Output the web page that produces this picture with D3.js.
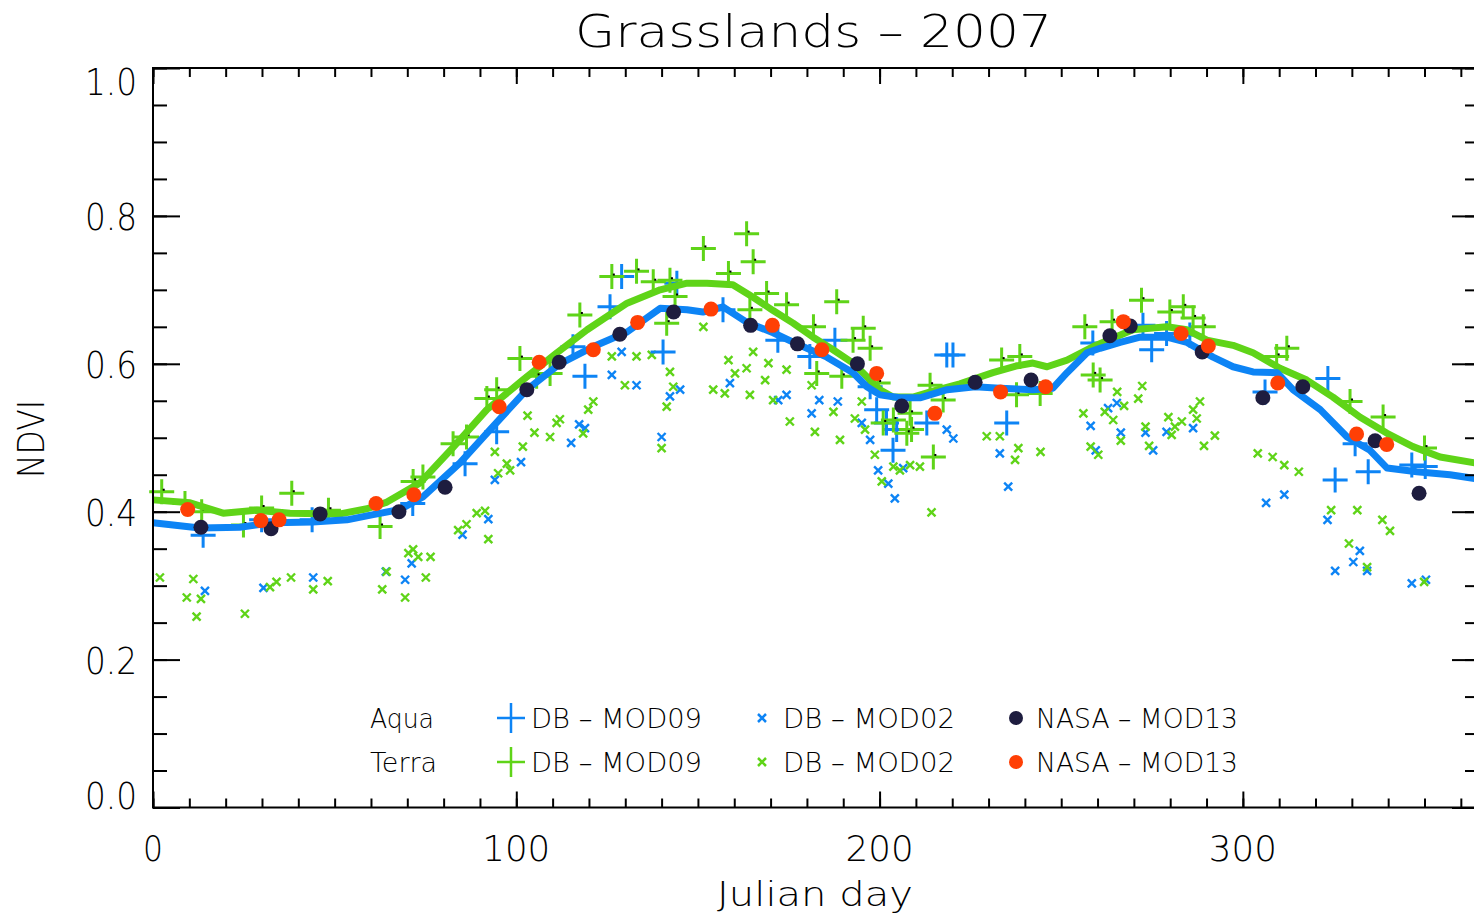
<!DOCTYPE html>
<html><head><meta charset="utf-8">
<script src="https://cdn.jsdelivr.net/npm/d3@7"></script>
<style>
html,body{margin:0;padding:0;background:#fff;}
svg text{font-family:"DejaVu Sans","Liberation Sans",sans-serif;font-weight:200;fill:#000;}
</style></head>
<body>
<svg id="c" width="1474" height="917"></svg>
<script>
// ---------- DATA (Julian day, NDVI) ----------
const title = "Grasslands – 2007";
const xLabel = "Julian day";
const yLabel = "NDVI";
const xTickLabels = [0, 100, 200, 300];
const yTickLabels = [0.0, 0.2, 0.4, 0.6, 0.8, 1.0];
const legendRows = ["Aqua", "Terra"];
const legendNames = ["DB – MOD09", "DB – MOD02", "NASA – MOD13"];

const aquaSmooth = [[0,0.385],[12.9,0.378],[23.9,0.379],[33,0.385],[44,0.386],[53.4,0.389],[60.6,0.396],[68,0.403],[74.3,0.42],[84.5,0.466],[92.8,0.511],[102.9,0.565],[112,0.6],[121.1,0.623],[130.5,0.643],[139.6,0.675],[147,0.673],[151.4,0.67],[156.9,0.677],[163.5,0.656],[170.7,0.642],[178.1,0.625],[185.5,0.609],[192.7,0.588],[196.5,0.569],[200.1,0.558],[205.6,0.554],[211.1,0.554],[218.6,0.565],[226.3,0.569],[233.1,0.567],[242.2,0.565],[247.7,0.567],[251.6,0.588],[257.1,0.615],[260.7,0.621],[266.2,0.629],[271.7,0.636],[279.1,0.636],[284.6,0.629],[291.8,0.609],[297.3,0.596],[302.8,0.589],[309.4,0.588],[313.8,0.565],[321.3,0.538],[328.7,0.501],[335,0.483],[339.7,0.459],[347.9,0.454],[357,0.45],[365,0.444]];
const terraSmooth = [[0,0.416],[10.2,0.412],[19.3,0.398],[28.6,0.402],[37.7,0.398],[51.5,0.397],[58.9,0.404],[64.4,0.413],[73.5,0.439],[82.6,0.487],[91.9,0.538],[101.8,0.578],[111.2,0.615],[119.5,0.646],[130.5,0.682],[139.6,0.7],[147,0.709],[152.5,0.709],[159.6,0.707],[165.2,0.69],[170.7,0.672],[176.2,0.655],[181.7,0.636],[187.2,0.619],[192.7,0.601],[197.4,0.578],[200.1,0.565],[203.7,0.555],[209.2,0.555],[214.7,0.563],[222.1,0.573],[231.2,0.588],[237.5,0.597],[242.2,0.601],[246.1,0.596],[251.6,0.605],[258.7,0.623],[269.7,0.646],[279.1,0.65],[284.6,0.646],[290.1,0.632],[297.3,0.625],[302.8,0.615],[310.2,0.594],[317.6,0.578],[324.8,0.555],[332.2,0.528],[339.7,0.506],[346.8,0.488],[354.3,0.474],[365,0.465]];

const aquaMod13 = [[13.2,0.379],[32.5,0.377],[46,0.397],[67.7,0.4],[80.4,0.433],[102.9,0.565],[111.8,0.602],[128.5,0.64],[143.3,0.67],[164.5,0.652],[177.4,0.627],[193.9,0.6],[206.1,0.543],[226.3,0.575],[241.7,0.578],[263.4,0.638],[269,0.651],[288.8,0.616],[305.5,0.554],[316.5,0.569],[336.4,0.496],[348.5,0.425]];
const terraMod13 = [[9.55,0.403],[29.7,0.388],[34.7,0.389],[61.4,0.411],[71.8,0.423],[95.3,0.542],[106.3,0.602],[121.2,0.619],[133.4,0.656],[153.6,0.674],[170.5,0.652],[184.1,0.619],[199.2,0.587],[215.2,0.533],[233.3,0.562],[245.7,0.569],[267.1,0.657],[283,0.641],[290.5,0.624],[309.6,0.574],[331.3,0.505],[339.6,0.491]];

const aquaMod09 = [[13.8,0.368],[29.9,0.389],[43.8,0.389],[71.5,0.411],[85.9,0.465],[94.6,0.508],[118.9,0.583],[115.6,0.623],[125.8,0.677],[129,0.718],[140.4,0.616],[144.2,0.709],[156.9,0.673],[172,0.632],[180.8,0.61],[187.7,0.632],[197.4,0.569],[199.2,0.538],[201.9,0.52],[204.7,0.511],[203.7,0.483],[213,0.52],[218.5,0.612],[220.2,0.612],[235,0.52],[258.7,0.628],[272.5,0.652],[274.9,0.619],[279,0.641],[285.4,0.639],[306.1,0.562],[323.4,0.58],[325.4,0.443],[330.9,0.492],[334.5,0.454],[346.5,0.463],[350.2,0.461]];
const terraMod09 = [[2.4,0.427],[8.8,0.411],[13.4,0.4],[24.9,0.382],[29.9,0.405],[38.2,0.425],[48.3,0.402],[62.5,0.38],[71.6,0.441],[74.3,0.447],[82.6,0.492],[86.3,0.501],[91.9,0.553],[94.6,0.565],[101,0.607],[105.6,0.583],[109.3,0.587],[117.5,0.666],[126.3,0.718],[133.1,0.725],[137.7,0.711],[142.3,0.713],[143.7,0.691],[141.4,0.655],[151.5,0.756],[158.4,0.722],[163.4,0.776],[165.2,0.738],[168.9,0.695],[174.4,0.68],[164.3,0.673],[181.8,0.65],[182.7,0.587],[188.2,0.684],[192.7,0.632],[195.5,0.648],[197.4,0.621],[189.6,0.583],[199.6,0.574],[208.4,0.533],[208.8,0.511],[213.9,0.571],[217.5,0.551],[214.8,0.474],[201,0.52],[203.8,0.524],[207.5,0.506],[233.6,0.605],[238.6,0.61],[237.7,0.558],[244.2,0.56],[256.5,0.65],[258.8,0.585],[260.7,0.578],[264,0.657],[272.1,0.686],[279.9,0.67],[283.6,0.677],[286.3,0.662],[289.1,0.65],[312.1,0.621],[309.3,0.61],[329.5,0.549],[338.6,0.528],[350,0.486]];

const aquaMod02 = [[14.3,0.293],[30.4,0.297],[44.1,0.311],[64.1,0.319],[69.4,0.308],[71.2,0.33],[85.2,0.369],[92.3,0.39],[94.1,0.443],[101.3,0.467],[115.1,0.493],[117.3,0.518],[118.9,0.513],[129,0.616],[126.3,0.585],[133.1,0.571],[142.3,0.556],[145.1,0.565],[140,0.501],[158.8,0.574],[172.1,0.551],[174.4,0.558],[183.4,0.551],[181.3,0.533],[188.5,0.549],[195.1,0.52],[197.4,0.497],[199.6,0.456],[202.4,0.438],[206.5,0.459],[204.2,0.418],[218.5,0.511],[220.3,0.499],[233.1,0.479],[235.4,0.434],[258.1,0.516],[259.5,0.483],[262.9,0.54],[265.3,0.547],[266.4,0.507],[273.2,0.507],[275.3,0.483],[279,0.508],[286.3,0.513],[306.4,0.412],[311.4,0.423],[323.3,0.389],[332.2,0.347],[330.4,0.332],[325.4,0.32],[334.2,0.32],[346.5,0.303],[350.4,0.308]];
const terraMod02 = [[1.9,0.311],[11.1,0.309],[9.3,0.284],[13.2,0.282],[12,0.258],[25.3,0.262],[32.2,0.298],[34,0.305],[38,0.311],[44.1,0.295],[48.1,0.306],[63.1,0.295],[64.3,0.319],[69.4,0.284],[75.1,0.311],[70.3,0.344],[71.6,0.349],[73,0.339],[76.4,0.339],[84,0.375],[86.3,0.383],[89.1,0.398],[91.4,0.401],[92.3,0.363],[94.1,0.481],[95,0.452],[97.4,0.465],[98.3,0.456],[101.8,0.488],[103.1,0.53],[105,0.507],[109.3,0.501],[111.1,0.52],[112,0.525],[118.4,0.506],[119.8,0.538],[121.2,0.549],[126.3,0.61],[129.9,0.571],[133.1,0.61],[137.3,0.612],[140,0.486],[142.3,0.589],[141.4,0.542],[143.2,0.569],[151.5,0.65],[154.2,0.565],[157.4,0.56],[158.4,0.605],[160.2,0.587],[163.4,0.594],[164.3,0.558],[165.2,0.616],[168.5,0.578],[169.4,0.601],[170.7,0.551],[174.4,0.592],[175.3,0.522],[181.3,0.571],[182.2,0.508],[187.3,0.535],[189.1,0.497],[193.2,0.526],[195.1,0.549],[196,0.511],[198.7,0.477],[200.6,0.441],[203.8,0.461],[205.6,0.456],[208.4,0.463],[211.1,0.461],[214.3,0.399],[229.5,0.502],[233.1,0.502],[238.2,0.486],[237.3,0.47],[244.3,0.481],[256.1,0.533],[258.1,0.488],[260.2,0.477],[262,0.535],[264.3,0.524],[265.4,0.562],[267.3,0.543],[266.4,0.496],[271.2,0.553],[272.3,0.57],[273.2,0.515],[274.2,0.489],[279.5,0.528],[281.3,0.515],[283.2,0.522],[280.4,0.504],[286.3,0.538],[287.3,0.526],[288.2,0.549],[289.3,0.489],[292.3,0.503],[304.1,0.479],[308.2,0.474],[311.4,0.463],[315.4,0.454],[324.3,0.402],[331.5,0.402],[338.4,0.389],[340.5,0.374],[329.2,0.357],[334.2,0.325],[349.9,0.305]];

// ---------- STYLE ----------
const BLUE = "#0d84f5", GREEN = "#5fd418", NAVY = "#1e1d3f", RED = "#ff3f05";

const svg = d3.select("#c");
const L = 153, R = 1479, T = 68, B = 807.5;
const x = d3.scaleLinear().domain([0, 365]).range([L, R]);
const y = d3.scaleLinear().domain([0, 1]).range([B, T]);

const plot = svg.append("g");

function crossX(g, data, color, s, w) {
  g.selectAll(null).data(data).enter().append("path")
    .attr("d", d => { const cx = x(d[0]), cy = y(d[1]);
      return `M${cx-s},${cy-s}L${cx+s},${cy+s}M${cx-s},${cy+s}L${cx+s},${cy-s}`; })
    .attr("stroke", color).attr("stroke-width", w).attr("fill", "none");
}
function plus(g, data, color, s, w, dot) {
  g.selectAll(null).data(data).enter().append("path")
    .attr("d", d => { const cx = x(d[0]), cy = y(d[1]);
      return `M${cx-s},${cy}L${cx+s},${cy}M${cx},${cy-s}L${cx},${cy+s}`; })
    .attr("stroke", color).attr("stroke-width", w).attr("fill", "none");
  if (dot) g.selectAll(null).data(data).enter().append("rect")
    .attr("x", d => x(d[0]) + 1).attr("y", d => y(d[1]) - 3).attr("width", 2).attr("height", 2).attr("fill", "#000");
}

crossX(plot.append("g"), aquaMod02, BLUE, 4, 2.4);
crossX(plot.append("g"), terraMod02, GREEN, 4, 2.4);
plus(plot.append("g"), aquaMod09, BLUE, 12.5, 3, false);
plus(plot.append("g"), terraMod09, GREEN, 12.5, 3, true);

const line = d3.line().x(d => x(d[0])).y(d => y(d[1]));
plot.append("path").datum(terraSmooth).attr("d", line).attr("fill", "none")
  .attr("stroke", GREEN).attr("stroke-width", 7).attr("stroke-linejoin", "round");
plot.append("path").datum(aquaSmooth).attr("d", line).attr("fill", "none")
  .attr("stroke", BLUE).attr("stroke-width", 7).attr("stroke-linejoin", "round");

plot.append("g").selectAll("circle").data(aquaMod13).enter().append("circle")
  .attr("cx", d => x(d[0])).attr("cy", d => y(d[1])).attr("r", 7.5).attr("fill", NAVY);
plot.append("g").selectAll("circle").data(terraMod13).enter().append("circle")
  .attr("cx", d => x(d[0])).attr("cy", d => y(d[1])).attr("r", 7.5).attr("fill", RED);

// ---------- AXES ----------
const ax = svg.append("g").attr("stroke", "#000");
function tickAxis(gen, tr, vals, size) {
  const g = ax.append("g").attr("transform", tr)
    .call(gen.tickValues(vals).tickSize(size).tickFormat(""));
  g.select(".domain").remove();
  g.selectAll(".tick line").attr("stroke", "#000").attr("stroke-width", 2);
}
const yMinor = d3.range(0, 1.0001, 0.05), xMinor = d3.range(0, 361, 10);
tickAxis(d3.axisLeft(y), `translate(${L},0)`, yMinor, -14);
tickAxis(d3.axisLeft(y), `translate(${L},0)`, yTickLabels, -27);
tickAxis(d3.axisRight(y), `translate(${R},0)`, yMinor, -14);
tickAxis(d3.axisRight(y), `translate(${R},0)`, yTickLabels, -27);
tickAxis(d3.axisBottom(x), `translate(0,${B})`, xMinor, -9);
tickAxis(d3.axisBottom(x), `translate(0,${B})`, xTickLabels, -16);
tickAxis(d3.axisTop(x), `translate(0,${T})`, xMinor, -9);
tickAxis(d3.axisTop(x), `translate(0,${T})`, xTickLabels, -16);
svg.append("rect").attr("x", L).attr("y", T).attr("width", R - L).attr("height", B - T)
  .attr("fill", "none").attr("stroke", "#000").attr("stroke-width", 2);

// tick labels
const lab = svg.append("g");
lab.selectAll(null).data(yTickLabels).enter().append("text")
  .attr("x", 85).attr("y", d => Math.min(Math.max(y(d), T + 13), B - 13) + 14)
  .attr("font-size", 37).attr("textLength", 52).attr("lengthAdjust", "spacingAndGlyphs")
  .text(d => d.toFixed(1));
lab.selectAll(null).data(xTickLabels).enter().append("text")
  .attr("x", d => { const n = String(d).length, w = 20 + (n - 1) * 24; return x(d) - w / 2; })
  .attr("y", 861).attr("font-size", 35)
  .attr("textLength", d => 20 + (String(d).length - 1) * 24).attr("lengthAdjust", "spacingAndGlyphs")
  .text(d => d);

svg.append("text").attr("x", 575).attr("y", 47).attr("font-size", 45)
  .attr("textLength", 477).attr("lengthAdjust", "spacingAndGlyphs").text(title);
svg.append("text").attr("x", 717).attr("y", 906).attr("font-size", 33)
  .attr("textLength", 196).attr("lengthAdjust", "spacingAndGlyphs").text(xLabel);
svg.append("text").attr("transform", "translate(44,478) rotate(-90)").attr("font-size", 37)
  .attr("textLength", 78).attr("lengthAdjust", "spacingAndGlyphs").text(yLabel);

// ---------- LEGEND ----------
const lg = svg.append("g");
const rowY = [718, 762];
const rowW = [64, 67];
legendRows.forEach((r, i) => {
  lg.append("text").attr("x", 370).attr("y", rowY[i] + 10).attr("font-size", 27)
    .attr("textLength", rowW[i]).attr("lengthAdjust", "spacingAndGlyphs").text(r);
});
const nameX = [531, 783, 1036], nameW = [171, 172, 202];
const cols = [[BLUE, GREEN], [BLUE, GREEN], [NAVY, RED]];
legendRows.forEach((r, i) => {
  const cy = rowY[i];
  lg.append("path").attr("d", `M497,${cy}L525,${cy}M511,${cy-15}L511,${cy+15}`)
    .attr("stroke", cols[0][i]).attr("stroke-width", 2.5);
  lg.append("path").attr("d", `M758,${cy-4}L766,${cy+4}M758,${cy+4}L766,${cy-4}`)
    .attr("stroke", cols[1][i]).attr("stroke-width", 2.5);
  lg.append("circle").attr("cx", 1016).attr("cy", cy).attr("r", 7).attr("fill", cols[2][i]);
  legendNames.forEach((n, j) => {
    lg.append("text").attr("x", nameX[j]).attr("y", cy + 10).attr("font-size", 27)
      .attr("textLength", nameW[j]).attr("lengthAdjust", "spacingAndGlyphs").text(n);
  });
});
</script>
</body></html>
